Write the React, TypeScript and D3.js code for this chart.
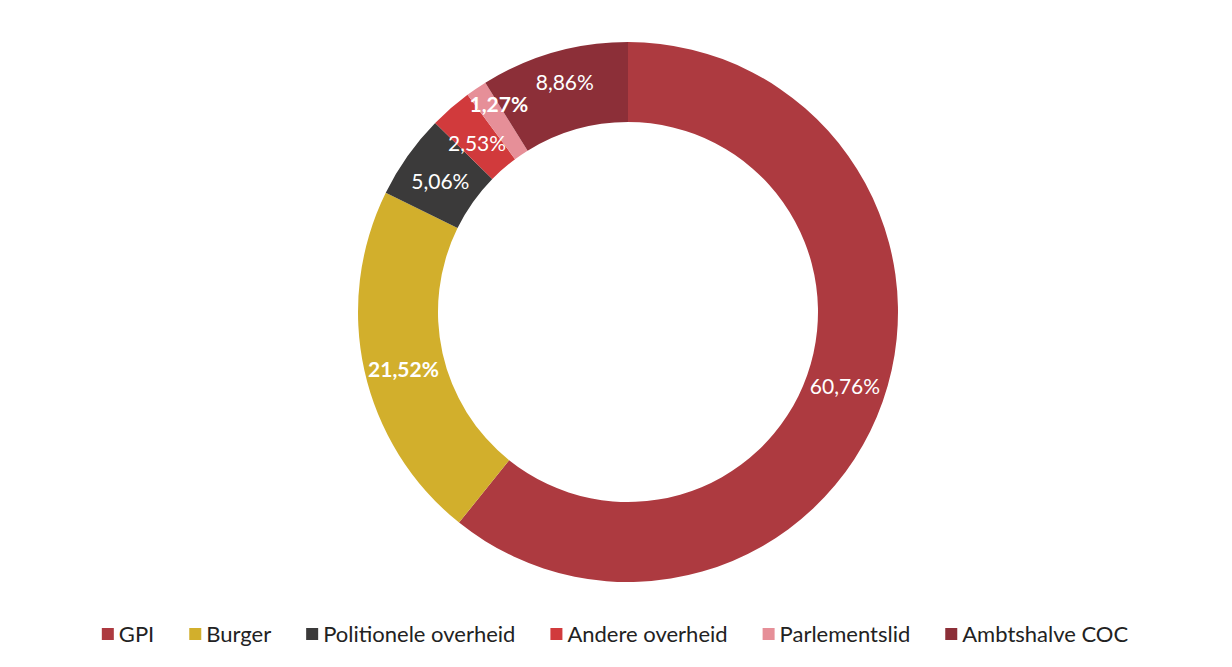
import React from "react";
import * as d3 from "d3";

const categories = ["GPI", "Burger", "Politionele overheid", "Andere overheid", "Parlementslid", "Ambtshalve COC"];
const values = [60.76, 21.52, 5.06, 2.53, 1.27, 8.86];
const labels = ["60,76%", "21,52%", "5,06%", "2,53%", "1,27%", "8,86%"];
const colors = ["#ad3a40", "#d2af2c", "#3b3a3a", "#d13a3c", "#e68f98", "#8c2f38"];
const boldLabels = [false, true, false, false, true, false];
const labelDy = [6, 15, 10, 13, -10, -1];

const W = 1232;
const H = 667;
const FONT = "Lato, 'Open Sans', sans-serif";

function measure(text: string, size: number): number {
  const c = document.createElement("canvas").getContext("2d");
  if (!c) return text.length * size * 0.5;
  c.font = `${size}px Lato`;
  return c.measureText(text).width;
}

export default function App() {
  const cx = 628;
  const cy = 312;
  const R = 270;
  const r = 190;
  const pie = d3.pie<number>().sort(null).value((d) => d)(values);
  const arc = d3.arc<d3.PieArcDatum<number>>().innerRadius(r).outerRadius(R);

  const legSize = 22;
  const sq = 12;
  const sqGap = 5;
  const itemGap = 35;
  const widths = categories.map((c) => sq + sqGap + measure(c, legSize));
  const total = widths.reduce((a, b) => a + b, 0) + itemGap * (categories.length - 1);
  let x0 = 615 - total / 2;
  const legendY = 634;
  const xs: number[] = [];
  widths.forEach((w) => {
    xs.push(x0);
    x0 += w + itemGap;
  });

  return (
    <svg width={W} height={H} style={{ position: "absolute", left: 0, top: 0, background: "#fff" }}>
      <rect width={W} height={H} fill="#fff" />
      <g transform={`translate(${cx},${cy})`}>
        {pie.map((p, i) => (
          <path key={i} d={arc(p) || ""} fill={colors[i]} stroke="none" />
        ))}
        {pie.map((p, i) => {
          const [lx, ly] = arc.centroid(p);
          return (
            <text
              key={"l" + i}
              x={lx}
              y={ly + labelDy[i]}
              textAnchor="middle"
              fill="#fff"
              fontFamily={FONT}
              fontSize={21}
              fontWeight={boldLabels[i] ? 700 : 400}
            >
              {labels[i]}
            </text>
          );
        })}
      </g>
      <g>
        {categories.map((c, i) => (
          <g key={c} transform={`translate(${xs[i]},${legendY})`}>
            <rect x={0} y={-6} width={sq} height={sq} fill={colors[i]} />
            <text x={sq + sqGap} y={0} dy="0.35em" fontFamily={FONT} fontSize={legSize} fill="#222">
              {c}
            </text>
          </g>
        ))}
      </g>
    </svg>
  );
}
